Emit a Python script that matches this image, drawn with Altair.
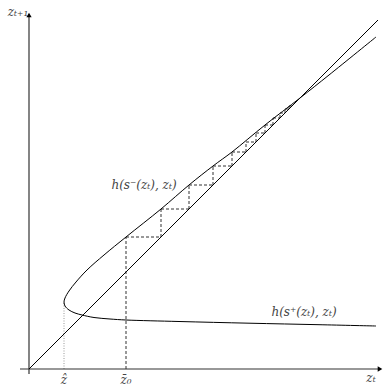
import altair as alt
import pandas as pd

# Upper branch h(s^-(z_t), z_t), traced from its far end back to the turning point
upper_z = [347, 300, 271, 236, 203, 184, 160, 132, 97, 75, 58, 47, 40, 36, 35]
upper_v = [332, 294, 271, 244, 217, 203, 184, 160, 132, 114, 99, 87, 78, 71, 67]
# Lower branch h(s^+(z_t), z_t), from the turning point outwards
lower_z = [36, 40, 46, 53, 65, 81, 97, 150, 220, 290, 347]
lower_v = [63, 59, 56, 54, 51.5, 50, 49, 47.5, 45.8, 44.3, 43]

# Successive iterates z_0, z_1, ... traced by the cobweb
iterates = [97, 132, 160, 184, 203, 217, 227, 236, 244, 251, 256, 260, 263]

z_hat = 35           # turning point of the curve
diag_end = 349       # extent of the 45-degree line
x_axis_span = [-9, 354]
y_axis_span = [-5, 357]

tick_names = ["ẑ", "z̄₀"]
tick_pos = [z_hat, iterates[0]]

SERIF = "DejaVu Serif"

xs = alt.Scale(domain=[-29, 356], nice=False, zero=False)
ys = alt.Scale(domain=[-17, 369], nice=False, zero=False)


def X(field):
    return alt.X(field, type="quantitative", scale=xs, axis=None)


def Y(field):
    return alt.Y(field, type="quantitative", scale=ys, axis=None)


# curve as a single ordered path
curve = pd.DataFrame({
    "z": upper_z + lower_z,
    "v": upper_v + lower_v,
    "k": list(range(len(upper_z) + len(lower_z))),
})

# axes
axes = pd.DataFrame({
    "x": [x_axis_span[0], 0],
    "y": [0, y_axis_span[0]],
    "x2": [x_axis_span[1] - 3, 0],
    "y2": [0, y_axis_span[1] - 3],
})
arrows = pd.DataFrame({
    "x": [x_axis_span[1] - 3, 0],
    "y": [0, y_axis_span[1] - 3],
    "shape": ["triangle-right", "triangle-up"],
})

diag = pd.DataFrame({"x": [0], "y": [0], "x2": [diag_end], "y2": [diag_end]})

# cobweb segments: up from the axis to the curve, then across to the
# diagonal and up to the curve again
rows = [dict(x=iterates[0], y=0, x2=iterates[0], y2=iterates[1])]
for a, b, c in zip(iterates, iterates[1:], iterates[2:]):
    rows.append(dict(x=a, y=b, x2=b, y2=b))
    rows.append(dict(x=b, y=b, x2=b, y2=c))
rows.append(dict(x=iterates[-2], y=iterates[-1], x2=iterates[-1], y2=iterates[-1]))
cobweb = pd.DataFrame(rows)

dotted = pd.DataFrame({"x": [z_hat], "y": [0], "x2": [z_hat], "y2": [lower_v[0] + 4]})

ticks = pd.DataFrame({"x": tick_pos, "y": [-11, -11], "t": tick_names})

labels = pd.DataFrame({
    "x": [115, 275, 342, -11],
    "y": [184, 57, -9, 357],
    "t": ["h(s⁻(zₜ), zₜ)", "h(s⁺(zₜ), zₜ)", "zₜ", "zₜ₊₁"],
})

axis_layer = alt.Chart(axes).mark_rule(color="#333", strokeWidth=1.2).encode(
    x=X("x"), y=Y("y"), x2="x2", y2="y2")
arrow_layer = alt.Chart(arrows).mark_point(filled=True, size=28, color="#000", opacity=1).encode(
    x=X("x"), y=Y("y"),
    shape=alt.Shape("shape:N", scale=None, legend=None))
diag_layer = alt.Chart(diag).mark_rule(color="#000", strokeWidth=1).encode(
    x=X("x"), y=Y("y"), x2="x2", y2="y2")
curve_layer = alt.Chart(curve).mark_line(
    color="#000", strokeWidth=1, interpolate="catmull-rom").encode(
    x=X("z"), y=Y("v"), order="k:Q")
cobweb_layer = alt.Chart(cobweb).mark_rule(
    color="#333", strokeWidth=1, strokeDash=[3, 2]).encode(
    x=X("x"), y=Y("y"), x2="x2", y2="y2")
dotted_layer = alt.Chart(dotted).mark_rule(
    color="#999", strokeWidth=1, strokeDash=[1, 1.5]).encode(
    x=X("x"), y=Y("y"), x2="x2", y2="y2")
tick_layer = alt.Chart(ticks).mark_text(
    font=SERIF, fontStyle="italic", fontSize=12, color="#444").encode(
    x=X("x"), y=Y("y"), text="t:N")
label_layer = alt.Chart(labels).mark_text(
    font=SERIF, fontStyle="italic", fontSize=12, color="#444").encode(
    x=X("x"), y=Y("y"), text="t:N")

chart = alt.layer(
    dotted_layer, cobweb_layer, axis_layer, arrow_layer, diag_layer,
    curve_layer, tick_layer, label_layer,
).properties(
    width=385, height=386, padding=0, autosize=alt.AutoSizeParams(type="none"),
    background="white",
).configure_view(stroke=None)

chart.save("out.html", embed_options={"renderer": "svg", "actions": False})
